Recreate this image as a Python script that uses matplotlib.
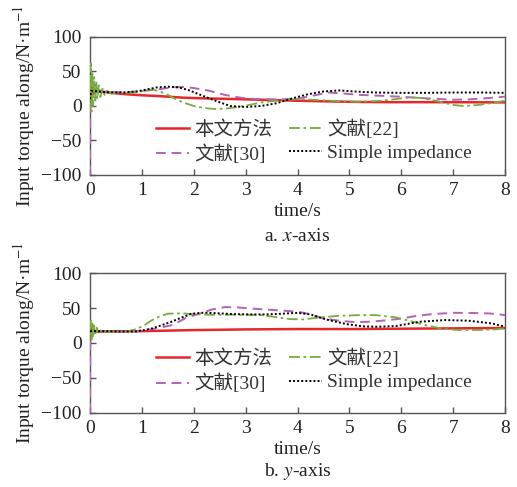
import matplotlib
matplotlib.use("Agg")
import matplotlib.pyplot as plt
from matplotlib.lines import Line2D

plt.rcParams['font.family'] = ['Liberation Serif', 'Noto Sans CJK SC']
plt.rcParams['mathtext.fontset'] = 'stix'
plt.rcParams['axes.unicode_minus'] = True

# ---- x-axis torque (panel a) ----
xa_red_t = [0, 0.01, 0.02, 0.03, 0.05, 0.08, 0.12, 0.2, 0.4, 0.7, 1.0, 1.2, 1.5, 1.8,
            2.2, 2.8, 3.4, 4.0, 4.6, 5.2, 5.8, 6.5, 7.2, 8.0]
xa_red_v = [50, 5, 35, 12, 28, 18, 24, 21, 19, 17, 15.5, 14.8, 13.5, 12,
            11, 10, 8.8, 7.6, 6.6, 5.8, 5.5, 5.5, 5.4, 5.2]

xa_grn_t = [0, 0.015, 0.03, 0.045, 0.06, 0.08, 0.10, 0.12, 0.14, 0.17, 0.20, 0.24, 0.28,
            0.33, 0.4, 0.5, 0.7, 0.9, 1.05, 1.2, 1.35, 1.5, 1.65, 1.8, 2.0, 2.2, 2.4,
            2.6, 2.8, 3.0, 3.3, 3.6, 4.0, 4.4, 4.8, 5.2, 5.6, 6.0, 6.2, 6.4, 6.7, 7.0,
            7.2, 7.5, 7.8, 8.0]
xa_grn_v = [20, 62, -8, 50, 0, 42, 5, 36, 10, 30, 13, 25, 16,
            22, 18, 19, 19, 20, 22, 24, 21, 16, 10, 5, 0, -3, -4.3,
            -4, -2, 0.5, 5, 8, 10, 8.5, 7, 6, 7.5, 11, 12.4, 11.5, 7, 1.5,
            0, 1.5, 5, 7.6]

xa_pur_t = [0, 0.005, 0.02, 0.05, 0.1, 0.2, 0.4, 0.7, 1.0, 1.3, 1.6, 1.8, 2.0, 2.3,
            2.6, 2.9, 3.2, 3.6, 4.0, 4.3, 4.6, 4.9, 5.2, 5.6, 6.0, 6.5, 7.0, 7.3, 7.6, 8.0]
xa_pur_v = [-100, 20, 24, 20, 22, 21, 20, 20, 21.5, 24, 27, 27.5, 26, 22,
            16, 12, 10, 9.5, 10.5, 15, 19.5, 18, 16, 14.8, 13.3, 11, 9, 9.5, 11, 13.5]

xa_blk_t = [0, 0.02, 0.3, 0.6, 0.9, 1.1, 1.3, 1.5, 1.7, 1.9, 2.1, 2.4, 2.7, 3.0, 3.3,
            3.6, 3.9, 4.2, 4.5, 4.8, 5.1, 5.5, 6.0, 6.5, 7.0, 7.5, 8.0]
xa_blk_v = [10, 22, 20, 19.5, 21, 24, 27, 28, 27, 23, 17, 8, 0, -1.5, 0,
            4, 11, 17, 21, 22.5, 21, 19.5, 19, 19, 19.5, 19.5, 19]

# ---- y-axis torque (panel b) ----
ya_red_t = [0, 0.01, 0.03, 0.06, 0.1, 0.3, 1, 2, 3, 4, 5, 6, 7, 8]
ya_red_v = [15, 25, 10, 20, 16, 16.5, 17, 18.5, 19.5, 20, 20, 20.5, 21, 21.5]

ya_grn_t = [0, 0.015, 0.03, 0.045, 0.06, 0.08, 0.1, 0.13, 0.17, 0.22, 0.3, 0.5, 0.7,
            0.9, 1.05, 1.2, 1.35, 1.5, 1.65, 1.8, 2.0, 2.3, 2.6, 3.0, 3.3, 3.6, 3.85,
            4.1, 4.4, 4.8, 5.2, 5.5, 5.9, 6.2, 6.5, 6.8, 7.1, 7.5, 7.8, 8.0]
ya_grn_v = [17, 32, 5, 28, 8, 25, 11, 22, 13, 19, 16, 16, 16.5,
            20, 25.7, 33, 38.5, 42, 42.5, 42.4, 41.5, 40.5, 40.5, 40.5, 40, 37, 34.3,
            33.8, 36.5, 39, 40, 40, 36.7, 31, 25, 20.5, 18.6, 18.6, 19.5, 21]

ya_pur_t = [0, 0.005, 0.02, 0.05, 0.1, 0.3, 0.6, 0.9, 1.1, 1.35, 1.6, 1.85, 2.1, 2.35,
            2.6, 2.85, 3.1, 3.4, 3.7, 4.0, 4.2, 4.5, 4.8, 5.1, 5.4, 5.7, 6.0, 6.3, 6.6,
            7.0, 7.4, 7.7, 8.0]
ya_pur_v = [-100, 18, 17, 16, 16.5, 17, 16.5, 17, 18.6, 22, 26, 36, 42, 48,
            51.5, 51, 49.5, 48, 46.5, 45, 42, 35.2, 32, 30, 30.5, 32.5, 35, 39, 41.5,
            43.3, 43, 42.4, 40]

ya_blk_t = [0, 0.3, 0.6, 0.87, 1.05, 1.2, 1.4, 1.57, 1.75, 1.96, 2.2, 2.5, 2.8, 3.1,
            3.4, 3.7, 4.0, 4.25, 4.55, 4.95, 5.25, 5.5, 5.9, 6.35, 6.85, 7.3, 7.75, 8.0]
ya_blk_v = [17, 17, 16.5, 16.5, 18.5, 21, 26, 30.5, 36, 42, 43.5, 42.5, 41.4, 41,
            41, 42, 43.3, 41, 33.8, 27, 24, 23.3, 24.3, 30.5, 32.9, 32, 28, 23.3]

series_labels = ['本文方法', '文献[22]', '文献[30]', 'Simple impedance']
x_ticks = [0, 1, 2, 3, 4, 5, 6, 7, 8]
y_ticks = [-100, -50, 0, 50, 100]

RED = '#e8262b'
GREEN = '#77ad3e'
PURPLE = '#b462b4'
BLACK = '#000000'
SPINE = '#555555'
TXT = '#222222'
FS = 14

GREEN_LS = (0, (6, 2, 1.5, 2))
PURPLE_LS = (0, (5, 3))
BLACK_LS = (0, (1, 1.1))

fig = plt.figure(figsize=(5.17, 4.87), dpi=100)
ax_a = fig.add_axes([0.1741, 0.6407, 0.8027, 0.2834])
ax_b = fig.add_axes([0.1741, 0.1526, 0.8027, 0.2862])

panels = [
    (ax_a, (xa_red_t, xa_red_v), (xa_grn_t, xa_grn_v), (xa_pur_t, xa_pur_v),
     (xa_blk_t, xa_blk_v), 'a. $\\mathit{x}$-axis', 236, 0.243),
    (ax_b, (ya_red_t, ya_red_v), (ya_grn_t, ya_grn_v), (ya_pur_t, ya_pur_v),
     (ya_blk_t, ya_blk_v), 'b. $\\mathit{y}$-axis', 472, 0.30),
]

for ax, red, grn, pur, blk, caption, cap_px, leg_y in panels:
    ax.plot(*pur, color=PURPLE, lw=1.4, ls=PURPLE_LS, zorder=3)
    ax.plot(*grn, color=GREEN, lw=1.3, ls=GREEN_LS, zorder=3)
    ax.plot(*blk, color=BLACK, lw=1.4, ls=BLACK_LS, zorder=4)
    ax.plot(*red, color=RED, lw=1.8, zorder=2)

    ax.set_xlim(0, 8)
    ax.set_ylim(-100, 100)
    ax.set_xticks(x_ticks)
    ax.set_yticks(y_ticks)
    ax.tick_params(direction='in', length=4, width=1, colors=SPINE,
                   labelcolor=TXT, labelsize=FS, top=False, right=False)
    ax.tick_params(axis='x', pad=5)
    ax.tick_params(axis='y', pad=6)
    for sp in ax.spines.values():
        sp.set_color(SPINE)
        sp.set_linewidth(1.0)

    ax.set_xlabel('time/s', fontsize=FS, labelpad=3, color=TXT)
    ax.set_ylabel('Input torque along/N·m$^{-1}$', fontsize=FS, labelpad=3,
                  color=TXT)
    fig.text(0.5755, 1 - cap_px / 487, caption, ha='center', va='center',
             fontsize=FS, color=TXT)

    handles = [
        Line2D([], [], color=RED, lw=1.8),
        Line2D([], [], color=PURPLE, lw=1.4, ls=PURPLE_LS),
        Line2D([], [], color=GREEN, lw=1.3, ls=GREEN_LS),
        Line2D([], [], color=BLACK, lw=1.4, ls=BLACK_LS),
    ]
    labels = [series_labels[0], series_labels[2], series_labels[1], series_labels[3]]
    ax.legend(handles, labels, ncol=2, frameon=False, fontsize=FS,
              loc='center left', bbox_to_anchor=(0.16, leg_y),
              borderpad=0, borderaxespad=0, handlelength=1.7,
              handletextpad=0.25, columnspacing=0.85, labelspacing=0.3,
              labelcolor='#333333')

fig.savefig('out.png', dpi=100)
